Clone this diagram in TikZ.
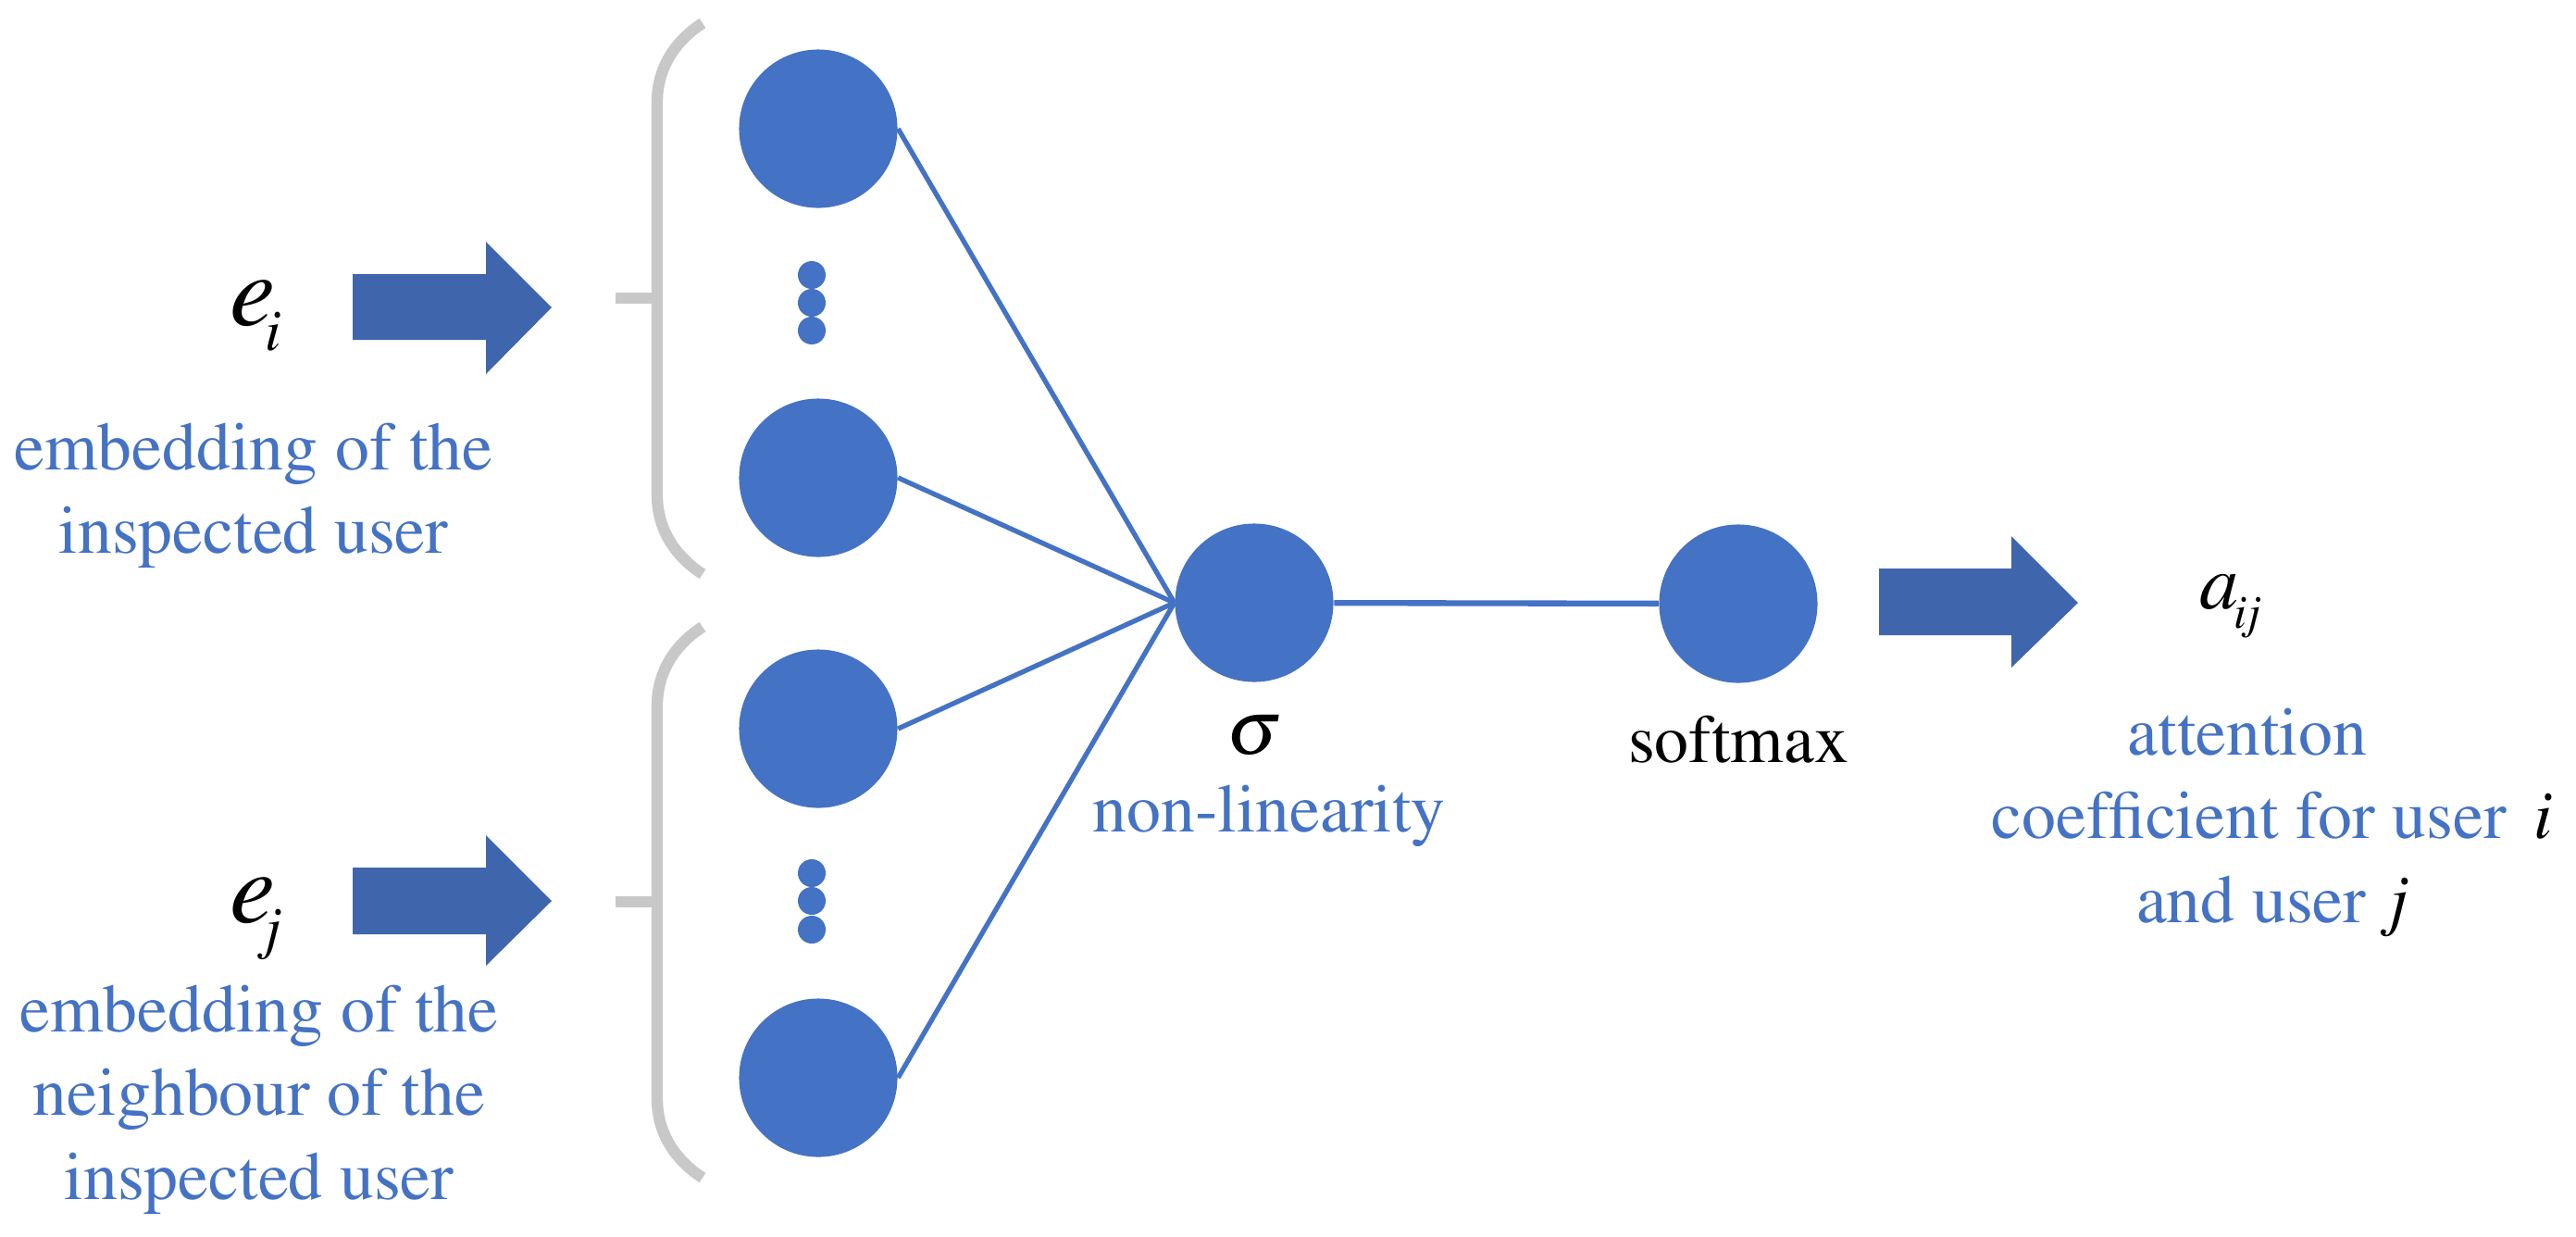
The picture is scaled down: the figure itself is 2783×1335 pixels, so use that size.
\documentclass[tikz,border=0pt]{standalone}
\usepackage[T1]{fontenc}
\usepackage{mathptmx}
\definecolor{nodeblue}{HTML}{4472C4}
\definecolor{arrowblue}{HTML}{3F65AD}
\definecolor{brgray}{HTML}{C8C8C8}
\tikzset{
  neuron/.style={circle, fill=nodeblue, minimum size=1.71cm, inner sep=0pt},
  dotnode/.style={circle, fill=nodeblue, minimum size=0.30cm, inner sep=0pt},
  conn/.style={draw=nodeblue, line width=1.5pt},
  hconn/.style={draw=nodeblue, line width=1.8pt},
  bracketline/.style={draw=brgray, line width=3.5pt},
  blockarr/.style={fill=arrowblue},
  bluetext/.style={text=nodeblue, font=\fontsize{21}{25.7}\selectfont, align=center, inner sep=0pt},
  blacktext/.style={text=black, font=\fontsize{21}{25.7}\selectfont, inner sep=0pt},
  mathlbl/.style={text=black, inner sep=0pt}
}
\begin{document}
\begin{tikzpicture}[x=0.01cm, y=-0.01cm]
\useasboundingbox[fill=white] (0,0) rectangle (2783,1335);

% brackets
\draw[bracketline] (759,25) .. controls (728,45) and (710,75) .. (710,110) -- (710,535) .. controls (710,570) and (728,600) .. (759,620);
\draw[bracketline] (665,322) -- (710,322);
\draw[bracketline] (759,677) .. controls (728,697) and (710,727) .. (710,762) -- (710,1187) .. controls (710,1222) and (728,1252) .. (759,1272);
\draw[bracketline] (665,974) -- (710,974);

% block arrows
\fill[blockarr] (381,296) -- (525,296) -- (525,261) -- (596,332) -- (525,404) -- (525,367) -- (381,367) -- cycle;
\fill[blockarr] (381,937) -- (525,937) -- (525,902) -- (596,973) -- (525,1043) -- (525,1009) -- (381,1009) -- cycle;
\fill[blockarr] (2030,614) -- (2173,614) -- (2173,579) -- (2245,651) -- (2173,721) -- (2173,686) -- (2030,686) -- cycle;

% neurons
\node[neuron] (l1) at (884,139) {};
\node[neuron] (l2) at (884,516) {};
\node[neuron] (l3) at (884,787) {};
\node[neuron] (l4) at (884,1164) {};
\node[neuron] (sig) at (1355,651) {};
\node[neuron] (soft) at (1878,652) {};

% ellipsis dots
\node[dotnode] (d1) at (877,297) {};
\node[dotnode] (d2) at (877,327) {};
\node[dotnode] (d3) at (877,357) {};
\node[dotnode] (d4) at (877,943) {};
\node[dotnode] (d5) at (877,973) {};
\node[dotnode] (d6) at (877,1004) {};

% connectors
\draw[conn] (l1.east) -- (sig.west);
\draw[conn] (l2.east) -- (sig.west);
\draw[conn] (l3.east) -- (sig.west);
\draw[conn] (l4.east) -- (sig.west);
\draw[hconn] (sig) -- (soft);

% labels
\node[mathlbl, anchor=base west] (ei) at (248,351) {\fontsize{31.5}{31.5}\selectfont\textit{e}\kern-0.11cm\raisebox{-0.27cm}{\fontsize{18}{18}\selectfont\textit{i}}};
\node[mathlbl, anchor=base west] (ej) at (248,996) {\fontsize{31.5}{31.5}\selectfont\textit{e}\kern-0.11cm\raisebox{-0.27cm}{\fontsize{18}{18}\selectfont\textit{j}}};
\node[mathlbl, anchor=base west] (aij) at (2376,657) {\fontsize{24}{24}\selectfont\textit{a}\kern-0.05cm\raisebox{-0.21cm}{\fontsize{14.5}{14.5}\selectfont\textit{ij}}};
\node[mathlbl, anchor=base] (sigl) at (1355,814) {\fontsize{24}{24}\selectfont$\sigma$};

\node[bluetext, anchor=north] (ti) at (274,456.5) {embedding of the\\inspected user};
\node[bluetext, anchor=north] (tj) at (280,1063.5) {embedding of the\\neighbour of the\\inspected user};
\node[bluetext, anchor=base] (nl) at (1371,898) {non-linearity};
\node[blacktext, anchor=base] (sm) at (1878,823) {softmax};
\node[bluetext, anchor=north] (att) at (2455,764.5) {attention\hspace*{0.54cm}\\coefficient for user\hspace{0.3cm}\textcolor{black}{\textit{i}}\\and user\hspace{0.25cm}\textcolor{black}{\textit{j}}};
\end{tikzpicture}
\end{document}
